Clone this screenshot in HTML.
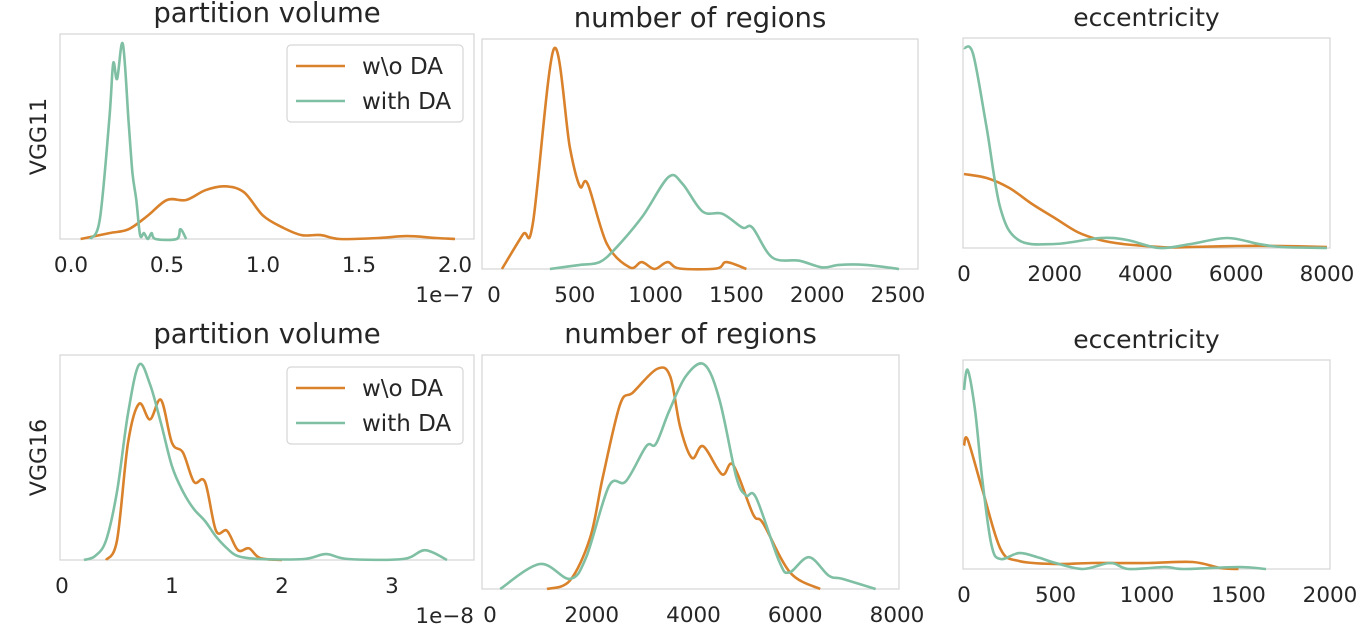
<!DOCTYPE html>
<html><head><meta charset="utf-8"><style>
body{margin:0;background:#fff;}
svg text{font-family:"DejaVu Sans","Liberation Sans",sans-serif;fill:#262626;}
</style></head><body>
<svg id="fig" width="1362" height="631" viewBox="0 0 1362 631" xmlns="http://www.w3.org/2000/svg"></svg>
<script>
// Panel 1: VGG11 partition volume (x in 1e-7)
const p1Ticks=[0.0,0.5,1.0,1.5,2.0];
const p1TickLabels=["0.0","0.5","1.0","1.5","2.0"];
const p1TealX=[0.1,0.15,0.2,0.22,0.24,0.27,0.3,0.32,0.34,0.36,0.38,0.4,0.42,0.44,0.55,0.57,0.6];
const p1TealY=[0,0.1,0.62,0.9,0.82,1.0,0.6,0.34,0.2,0.02,0.03,0.0,0.03,0,0,0.05,0];
const p1OrX=[0.05,0.2,0.3,0.4,0.5,0.6,0.7,0.8,0.9,1.0,1.1,1.2,1.3,1.4,1.6,1.75,1.9,2.0];
const p1OrY=[0,0.03,0.05,0.12,0.2,0.2,0.25,0.27,0.24,0.12,0.06,0.02,0.02,0,0.005,0.015,0.005,0];
// Panel 2: VGG11 number of regions
const p2Ticks=[0,500,1000,1500,2000,2500];
const p2TickLabels=["0","500","1000","1500","2000","2500"];
const p2OrX=[49,179,241,370,469,531,580,698,840,914,994,1074,1148,1377,1438,1562];
const p2OrY=[0,0.15,0.2,0.956,0.53,0.36,0.37,0.11,0.007,0.03,0.0,0.03,0.002,0.002,0.03,0];
const p2TealX=[346,531,654,759,920,1080,1167,1290,1414,1537,1599,1722,1889,2031,2136,2302,2506];
const p2TealY=[0,0.018,0.03,0.095,0.23,0.40,0.37,0.25,0.24,0.18,0.18,0.05,0.036,0.007,0.018,0.018,0];
// Panel 3: VGG11 eccentricity
const p3Ticks=[0,2000,4000,6000,8000];
const p3TickLabels=["0","2000","4000","6000","8000"];
const p3TealX=[0,200,500,800,1200,2000,3000,3600,4300,5000,5800,6500,7000,8000];
const p3TealY=[1.0,0.97,0.6,0.2,0.04,0.02,0.05,0.04,0.0,0.02,0.05,0.02,0.005,0];
const p3OrX=[0,500,1000,1500,2000,2500,3000,3500,4000,4500,5000,6000,7000,8000];
const p3OrY=[0.37,0.35,0.3,0.22,0.15,0.08,0.04,0.02,0.01,0.003,0.005,0.01,0.01,0.005];
// Panel 4: VGG16 partition volume (x in 1e-8)
const p4Ticks=[0,1,2,3];
const p4TickLabels=["0","1","2","3"];
const p4TealX=[0.2,0.3,0.4,0.5,0.6,0.7,0.8,0.9,1.0,1.1,1.2,1.3,1.4,1.5,1.6,1.8,2.2,2.4,2.6,3.1,3.3,3.5];
const p4TealY=[0,0.02,0.1,0.35,0.75,1.0,0.9,0.7,0.48,0.35,0.26,0.2,0.12,0.06,0.02,0.005,0.005,0.03,0.005,0.005,0.05,0];
const p4OrX=[0.4,0.5,0.6,0.7,0.8,0.9,1.0,1.1,1.2,1.3,1.4,1.5,1.6,1.7,1.8,2.0];
const p4OrY=[0,0.1,0.6,0.8,0.72,0.82,0.6,0.55,0.4,0.4,0.15,0.15,0.05,0.06,0.01,0];
// Panel 5: VGG16 number of regions
const p5Ticks=[0,2000,4000,6000,8000];
const p5TickLabels=["0","2000","4000","6000","8000"];
const p5OrX=[1120,1570,1970,2220,2560,2810,3280,3540,3740,3970,4190,4560,4780,5170,5370,5900,6490];
const p5OrY=[0,0.036,0.22,0.48,0.79,0.84,0.94,0.91,0.69,0.56,0.61,0.49,0.53,0.32,0.28,0.07,0];
const p5TealX=[200,980,1570,1890,2340,2670,3070,3260,3520,3850,4210,4510,4840,5030,5230,5680,5880,6270,6660,6930,7580];
const p5TealY=[0,0.107,0.043,0.136,0.44,0.46,0.61,0.62,0.76,0.91,0.96,0.81,0.48,0.40,0.39,0.12,0.07,0.136,0.057,0.043,0];
// Panel 6: VGG16 eccentricity
const p6Ticks=[0,500,1000,1500,2000];
const p6TickLabels=["0","500","1000","1500","2000"];
const p6TealX=[0,20,60,100,150,200,300,400,500,650,800,900,1100,1200,1500,1650];
const p6TealY=[0.9,1.0,0.8,0.45,0.12,0.05,0.08,0.06,0.03,0.0,0.03,0.0,0.01,0.0,0.01,0];
const p6OrX=[0,20,100,200,300,500,700,1000,1250,1400,1500];
const p6OrY=[0.62,0.65,0.4,0.1,0.04,0.025,0.03,0.03,0.035,0.005,0];

const OR="#d9822b", TE="#7fbfa3";
const svg=document.getElementById('fig');
const NS="http://www.w3.org/2000/svg";
function mk(tag,at,parent){const e=document.createElementNS(NS,tag);for(const k in at)e.setAttribute(k,at[k]);(parent||svg).appendChild(e);return e;}
function smooth(pts){let d="M"+pts[0][0]+","+pts[0][1];for(let i=0;i<pts.length-1;i++){const p0=pts[Math.max(0,i-1)],p1=pts[i],p2=pts[i+1],p3=pts[Math.min(pts.length-1,i+2)];const c1=[p1[0]+(p2[0]-p0[0])/6,p1[1]+(p2[1]-p0[1])/6],c2=[p2[0]-(p3[0]-p1[0])/6,p2[1]-(p3[1]-p1[1])/6];d+=" C"+c1[0].toFixed(1)+","+c1[1].toFixed(1)+" "+c2[0].toFixed(1)+","+c2[1].toFixed(1)+" "+p2[0].toFixed(1)+","+p2[1].toFixed(1);}return d;}
function panel(o){
  const g=mk('g',{});
  
  
  const fr=mk('rect',{x:o.l,y:o.t,width:o.r-o.l,height:o.b-o.t,fill:'none',stroke:'#d6d6d6','stroke-width':1.2},g);
  
  
  const ti=mk('text',{x:(o.l+o.r)/2,y:o.t-12,'text-anchor':'middle','font-size':o.tfs},g);ti.textContent=o.title;
  
  
  const sx=v=>o.x0+(v-o.d0)*(o.x1-o.x0)/(o.d1-o.d0);
  const sy=v=>o.b-v*(o.b-o.t)/o.ymax;
  o.ticks.forEach((t,i)=>{const tx=mk('text',{x:sx(t),y:o.b+33,'text-anchor':'middle','font-size':21.5},g);tx.textContent=o.labels[i];
    
    });
  if(o.offset){const tx=mk('text',{x:o.r,y:o.b+63,'text-anchor':'end','font-size':21.5},g);tx.textContent=o.offset;
    
    }
  o.series.forEach(s=>{const pts=s.x.map((v,i)=>[sx(v),sy(s.y[i])]);
    const p=mk('path',{d:smooth(pts),fill:'none',stroke:s.c,'stroke-width':2.6,'stroke-linejoin':'round'},g);
    
    });
  if(o.ylab){const yl=mk('text',{x:0,y:0,'text-anchor':'middle','font-size':22,transform:`translate(${o.l-14},${(o.t+o.b)/2}) rotate(-90)`},g);yl.textContent=o.ylab;
    
    }
  if(o.legend){const [lx,ly]=o.legend;const lg=mk('g',{},g);
    
    
    mk('rect',{x:lx,y:ly,width:176,height:77,rx:4,fill:'#fff',stroke:'#d6d6d6','stroke-width':1.2},lg);
    [[OR,'w\\o DA'],[TE,'with DA']].forEach((e,i)=>{const yy=ly+21+i*35;
      mk('line',{x1:lx+9,y1:yy,x2:lx+58,y2:yy,stroke:e[0],'stroke-width':2.6},lg);
      const t=mk('text',{x:lx+75,y:yy+8,'font-size':23},lg);t.textContent=e[1];
      
      });}
}
panel({name:'vgg11-partition-volume',title:'partition volume',tfs:27.5,l:60,r:474,t:34,b:239,ymax:1.05,d0:0,d1:2,x0:71,x1:455,ticks:p1Ticks,labels:p1TickLabels,offset:'1e\u22127',ylab:'VGG11',legend:[287,45],
  series:[{x:p1OrX,y:p1OrY,c:OR,n:'kde-without-da'},{x:p1TealX,y:p1TealY,c:TE,n:'kde-with-da'}]});
panel({name:'vgg11-number-of-regions',title:'number of regions',tfs:27.5,l:482,r:918,t:39,b:269,ymax:1.0,d0:0,d1:2500,x0:494,x1:898,ticks:p2Ticks,labels:p2TickLabels,
  series:[{x:p2OrX,y:p2OrY,c:OR,n:'kde-without-da'},{x:p2TealX,y:p2TealY,c:TE,n:'kde-with-da'}]});
panel({name:'vgg11-eccentricity',title:'eccentricity',tfs:25,l:963,r:1330,t:38,b:248,ymax:1.05,d0:0,d1:8000,x0:964,x1:1327,ticks:p3Ticks,labels:p3TickLabels,
  series:[{x:p3OrX,y:p3OrY,c:OR,n:'kde-without-da'},{x:p3TealX,y:p3TealY,c:TE,n:'kde-with-da'}]});
panel({name:'vgg16-partition-volume',title:'partition volume',tfs:27.5,l:60,r:474,t:355,b:560,ymax:1.05,d0:0,d1:3,x0:62,x1:392,ticks:p4Ticks,labels:p4TickLabels,offset:'1e\u22128',ylab:'VGG16',legend:[287,367],
  series:[{x:p4OrX,y:p4OrY,c:OR,n:'kde-without-da'},{x:p4TealX,y:p4TealY,c:TE,n:'kde-with-da'}]});
panel({name:'vgg16-number-of-regions',title:'number of regions',tfs:27.5,l:482,r:899,t:355,b:589,ymax:1.0,d0:0,d1:8000,x0:490,x1:897,ticks:p5Ticks,labels:p5TickLabels,
  series:[{x:p5OrX,y:p5OrY,c:OR,n:'kde-without-da'},{x:p5TealX,y:p5TealY,c:TE,n:'kde-with-da'}]});
panel({name:'vgg16-eccentricity',title:'eccentricity',tfs:25,l:963,r:1330,t:360,b:569,ymax:1.05,d0:0,d1:2000,x0:964,x1:1330,ticks:p6Ticks,labels:p6TickLabels,
  series:[{x:p6OrX,y:p6OrY,c:OR,n:'kde-without-da'},{x:p6TealX,y:p6TealY,c:TE,n:'kde-with-da'}]});
</script>
</body></html>
